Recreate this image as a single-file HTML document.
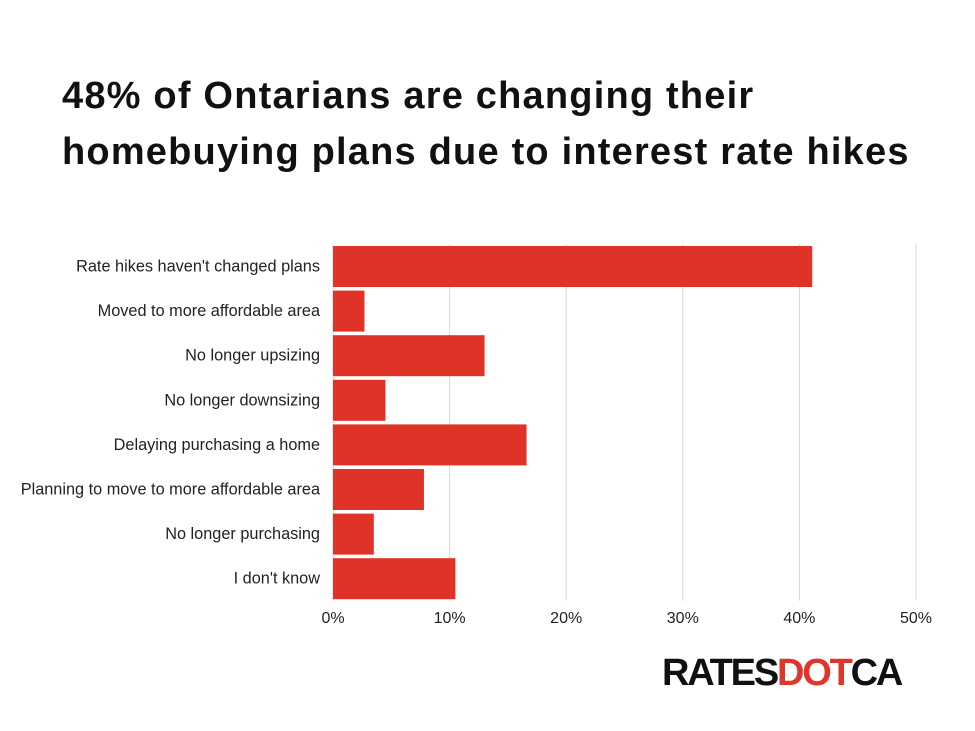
<!DOCTYPE html>
<html><head><meta charset="utf-8"><style>
body{margin:0;width:975px;height:731px;background:#fff;overflow:hidden;font-family:"Liberation Sans",sans-serif}
.title{position:absolute;left:62px;top:68px;font-size:38px;font-weight:bold;line-height:56px;color:#111;letter-spacing:1.2px;white-space:nowrap}
.logo{position:absolute;left:662px;top:652px;font-size:38px;font-weight:900;letter-spacing:-2.2px;color:#111;font-family:"Liberation Sans",sans-serif}
.logo span{color:#e0352b}
</style></head><body>
<div class="title">48% of Ontarians are changing their<br>homebuying plans due to interest rate hikes</div>
<svg id="chart" width="975" height="731" style="position:absolute;left:0;top:0"></svg>
<div class="logo">RATES<span>DOT</span>CA</div>
<script>
const categories=["Rate hikes haven't changed plans","Moved to more affordable area","No longer upsizing","No longer downsizing","Delaying purchasing a home","Planning to move to more affordable area","No longer purchasing","I don't know"];
const values=[41.1,2.7,13.0,4.5,16.6,7.8,3.5,10.5];
const ticks=[0,10,20,30,40,50];
const tickLabels=["0%","10%","20%","30%","40%","50%"];
const svg=document.getElementById('chart');
const NS='http://www.w3.org/2000/svg';
const X0=333,X1=916,TOP=244,ROWH=44.6,BARH=41;
const xs=v=>X0+(X1-X0)*v/50;
function mk(t,a){const e=document.createElementNS(NS,t);for(const k in a)e.setAttribute(k,a[k]);svg.appendChild(e);return e;}
ticks.forEach((t,i)=>{
 const g=mk('line',{x1:xs(t),x2:xs(t),y1:TOP,y2:TOP+ROWH*8,stroke:'#d9d9d9','stroke-width':1});
 
 
 const l=mk('text',{x:xs(t),y:623,'text-anchor':'middle','font-size':16,fill:'#222','font-family':'Liberation Sans, sans-serif'});
 l.textContent=tickLabels[i];
 
 
});
categories.forEach((c,i)=>{
 const y=TOP+2+ROWH*i;
 const b=mk('rect',{x:X0,y:y,width:xs(values[i])-X0,height:BARH,fill:'#df3328'});
 
 
 const l=mk('text',{x:320,y:y+BARH/2+5,'text-anchor':'end','font-size':16.3,fill:'#222','font-family':'Liberation Sans, sans-serif'});
 l.textContent=c;
 
 
});
</script>
</body></html>
